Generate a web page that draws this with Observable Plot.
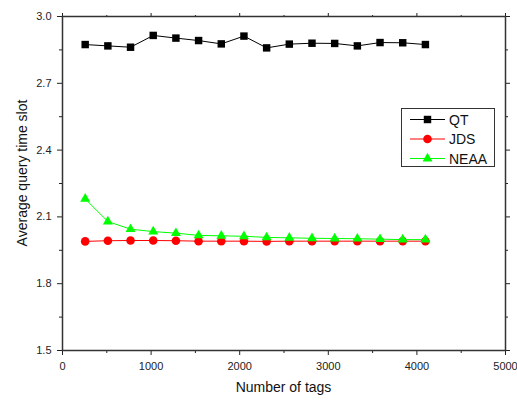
<!DOCTYPE html>
<html><head><meta charset="utf-8">
<script src="https://cdn.jsdelivr.net/npm/d3@7"></script>
<script src="https://cdn.jsdelivr.net/npm/@observablehq/plot@0.6"></script>
<style>
body{margin:0;background:#fff;font-family:Arial,"Liberation Sans",sans-serif}
#chart{position:relative;width:517px;height:403px}
#legend{position:absolute;left:401px;top:108px;width:94px;height:59px;border:1px solid #333;background:#fff;box-sizing:border-box}
</style>
</head><body><div id="chart"></div>
<script>
const tags = [256,512,768,1024,1280,1536,1792,2048,2304,2560,2816,3072,3328,3584,3840,4096];
const qt   = [2.874,2.868,2.862,2.915,2.903,2.892,2.877,2.912,2.859,2.876,2.880,2.879,2.868,2.883,2.882,2.874];
const jds  = [1.990,1.993,1.994,1.994,1.993,1.991,1.991,1.991,1.990,1.991,1.991,1.991,1.991,1.991,1.991,1.991];
const neaa = [2.181,2.079,2.045,2.034,2.027,2.017,2.015,2.013,2.008,2.006,2.004,2.003,2.002,2.000,1.998,1.998];
const seriesNames = ["QT","JDS","NEAA"];
const seriesColors = ["#000000","#ff0000","#00ff00"];
const seriesSymbols = ["square","circle","triangle"];
const seriesR = [4.2,4.3,3.7];
const xMajor = [0,1000,2000,3000,4000,5000];
const xMinor = [500,1500,2500,3500,4500];
const yMajor = [1.5,1.8,2.1,2.4,2.7,3.0];
const yMinor = [1.65,1.95,2.25,2.55,2.85];
const xLabel = "Number of tags";
const yLabel = "Average query time slot";

const values = [qt, jds, neaa];
const data = [];
values.forEach((arr, s) => arr.forEach((v, i) => data.push({series: seriesNames[s], x: tags[i], y: v})));

const marks = [];
seriesNames.forEach((name, s) => {
  const d = data.filter(r => r.series === name);
  marks.push(Plot.line(d, {x: "x", y: "y", stroke: seriesColors[s], strokeWidth: 1}));
  marks.push(Plot.dot(d, {x: "x", y: "y", symbol: () => seriesSymbols[s], r: seriesR[s], fill: seriesColors[s], stroke: "none"}));
});

const chart = Plot.plot({
  width: 517, height: 403,
  marginLeft: 62, marginRight: 12, marginTop: 16, marginBottom: 53,
  style: {fontFamily: "Arial, 'Liberation Sans', sans-serif", fontSize: "11px", color: "#222", background: "#fff"},
  x: {domain: [0, 5000]},
  y: {domain: [1.5, 3.0]},
  marks: [
    Plot.axisX({ticks: xMajor, tickSize: 5, tickPadding: 7, tickFormat: d3.format("d"), label: null, fontSize: 11}),
    Plot.axisX({ticks: xMinor, tickSize: 3, text: null, label: null}),
    Plot.axisX({anchor: "top", ticks: xMajor, tickSize: 4, text: null, label: null}),
    Plot.axisX({anchor: "top", ticks: xMinor, tickSize: 2, text: null, label: null}),
    Plot.axisY({ticks: yMajor, tickSize: 5, tickPadding: 6, tickFormat: d3.format(".1f"), label: null, fontSize: 11}),
    Plot.axisY({ticks: yMinor, tickSize: 3, text: null, label: null}),
    Plot.axisY({anchor: "right", ticks: yMajor, tickSize: 4, text: null, label: null}),
    Plot.axisY({anchor: "right", ticks: yMinor, tickSize: 2, text: null, label: null}),
    ...marks,
    Plot.frame({stroke: "#333", strokeWidth: 1.5})
  ]
});
document.getElementById("chart").appendChild(chart);

const svg = d3.select(chart);
svg.append("text").attr("x", 283.5).attr("y", 392).attr("text-anchor", "middle")
  .attr("font-size", 14).attr("fill", "#111").text(xLabel);
svg.append("text").attr("transform", "translate(27,173) rotate(-90)").attr("text-anchor", "middle")
  .attr("font-size", 14).attr("fill", "#111").text(yLabel);

// legend
const lg = d3.select("#chart").append("div").attr("id", "legend")
  .append("svg").attr("width", 92).attr("height", 57);
seriesNames.forEach((name, s) => {
  const yy = 10.5 + s * 19.5;
  lg.append("line").attr("x1", 8).attr("x2", 43).attr("y1", yy).attr("y2", yy)
    .attr("stroke", seriesColors[s]).attr("stroke-width", 1);
  const symType = s === 0 ? d3.symbolSquare : s === 1 ? d3.symbolCircle : d3.symbolTriangle;
  lg.append("path").attr("transform", `translate(25.5,${yy})`)
    .attr("d", d3.symbol(symType, Math.PI * seriesR[s] * seriesR[s])())
    .attr("fill", seriesColors[s]);
  lg.append("text").attr("x", 47).attr("y", yy + 5).attr("font-size", 14)
    .attr("font-family", "Arial, 'Liberation Sans', sans-serif").attr("fill", "#111").text(name);
});
</script>
</body></html>
